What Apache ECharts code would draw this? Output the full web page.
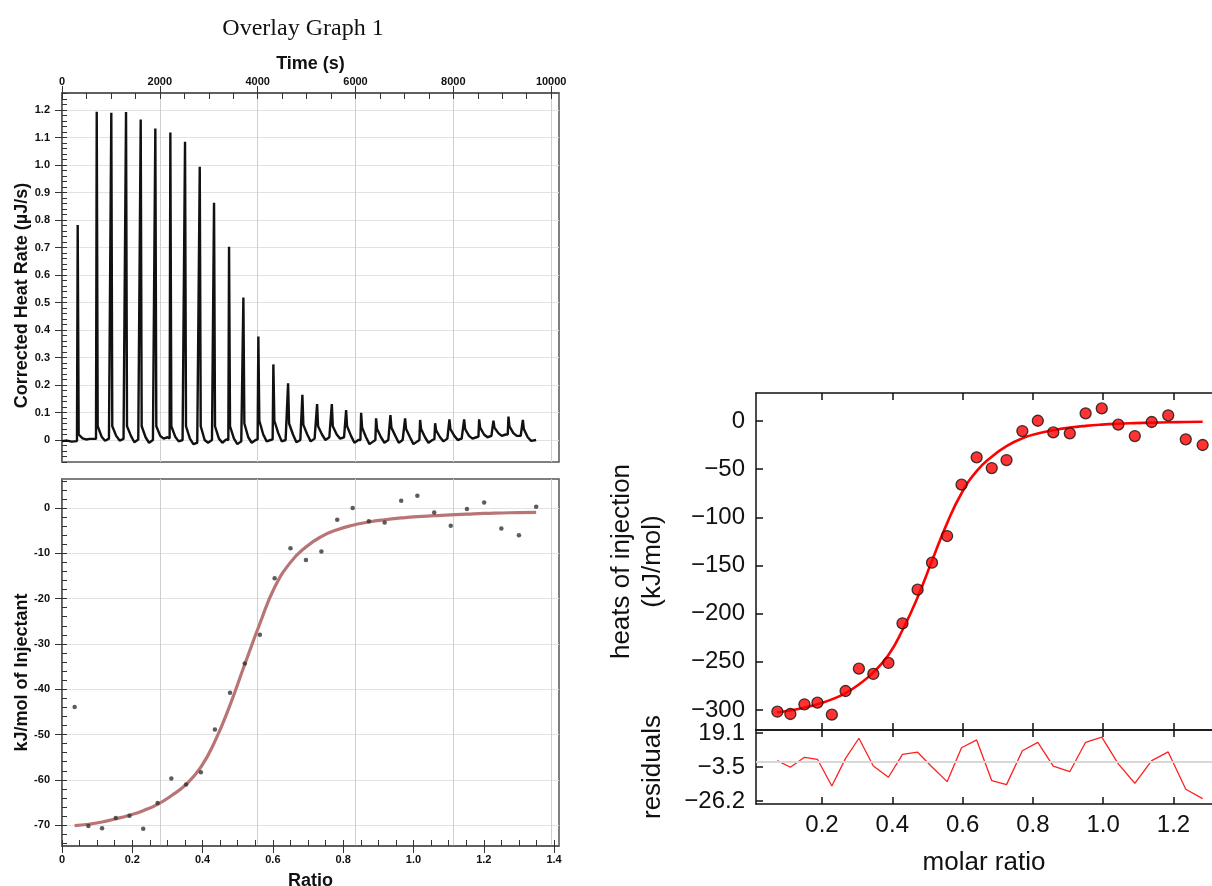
<!DOCTYPE html>
<html><head><meta charset="utf-8">
<script src="https://cdn.jsdelivr.net/npm/echarts@6/dist/echarts.min.js"></script>
<style>html,body{margin:0;padding:0;background:#fff}#c{width:1212px;height:886px}</style>
</head><body><div id="c"></div>
<script>
// ---------- data ----------
const thermogram = [
 [0,-0.004],[100,-0.002],[200,-0.006],
 [306,-0.004],[321,0.782],[341,0.02],[421,0.006],[491,0.002],[571,0.004],
 [695,0.004],[710,1.194],[730,0.05],[810,0.012],[880,-0.003],[960,0.005],
 [993,0.004],[1008,1.190],[1028,0.05],[1108,0.015],[1178,-0.002],[1258,0.004],
 [1294,0.003],[1309,1.193],[1329,0.05],[1409,0.015],[1479,-0.008],[1559,0.002],
 [1594,0.0],[1609,1.166],[1629,0.05],[1709,0.01],[1779,-0.01],[1859,0.0],
 [1893,0.005],[1908,1.133],[1928,0.05],[2008,0.015],[2078,0.005],[2158,0.01],
 [2200,0.006],[2215,1.118],[2235,0.05],[2315,0.012],[2385,-0.005],[2465,0.0],
 [2500,0.0],[2515,1.085],[2535,0.05],[2615,0.005],[2685,-0.015],[2765,-0.01],
 [2801,-0.005],[2816,0.994],[2836,0.05],[2916,0.0],[2986,-0.01],[3066,0.0],
 [3093,0.003],[3108,0.863],[3128,0.05],[3208,0.005],[3278,-0.01],[3358,0.002],
 [3400,0.0],[3415,0.703],[3435,0.05],[3515,0.005],[3585,-0.015],[3665,-0.005],
 [3693,-0.002],[3708,0.518],[3728,0.06],[3808,0.01],[3878,-0.01],[3958,0.0],
 [3999,0.002],[4014,0.376],[4034,0.07],[4114,0.02],[4184,-0.005],[4264,0.0],
 [4306,0.002],[4321,0.275],[4341,0.07],[4421,0.025],[4491,-0.005],[4571,0.0],
 [4607,0.0],[4622,0.206],[4642,0.06],[4722,0.02],[4792,-0.008],[4872,0.0],
 [4899,0.003],[4914,0.164],[4934,0.055],[5014,0.02],[5084,-0.005],[5164,0.005],
 [5200,0.008],[5215,0.131],[5235,0.05],[5315,0.02],[5385,0.0],[5465,0.01],
 [5501,0.012],[5516,0.131],[5536,0.05],[5616,0.02],[5686,0.005],[5766,0.01],
 [5793,0.008],[5808,0.109],[5828,0.05],[5908,0.015],[5978,-0.01],[6058,0.0],
 [6100,0.0],[6115,0.099],[6135,0.045],[6215,0.01],[6285,-0.015],[6365,-0.005],
 [6406,0.0],[6421,0.079],[6441,0.04],[6521,0.01],[6591,-0.01],[6671,0.0],
 [6699,0.003],[6714,0.091],[6734,0.045],[6814,0.015],[6884,-0.01],[6964,0.0],
 [6999,0.002],[7014,0.079],[7034,0.04],[7114,0.01],[7184,-0.015],[7264,-0.005],
 [7306,0.0],[7321,0.073],[7341,0.04],[7421,0.01],[7491,-0.01],[7571,0.0],
 [7613,0.003],[7628,0.061],[7648,0.035],[7728,0.01],[7798,-0.005],[7878,0.005],
 [7905,0.006],[7920,0.075],[7940,0.04],[8020,0.015],[8090,0.0],[8170,0.005],
 [8206,0.008],[8221,0.075],[8241,0.04],[8321,0.015],[8391,0.005],[8471,0.01],
 [8513,0.012],[8528,0.075],[8548,0.045],[8628,0.02],[8698,0.01],[8778,0.015],
 [8805,0.015],[8820,0.070],[8840,0.045],[8920,0.025],[8990,0.015],[9070,0.02],
 [9112,0.02],[9127,0.085],[9147,0.05],[9227,0.025],[9297,0.015],[9377,0.015],
 [9406,0.012],[9421,0.073],[9441,0.04],[9521,0.01],[9591,-0.003],[9693,0.0]
];

const ratioLeft = [0.036,0.075,0.114,0.153,0.192,0.231,0.272,0.311,0.353,0.395,0.435,0.478,0.520,0.563,0.605,0.650,0.694,0.738,0.783,0.827,0.873,0.918,0.965,1.011,1.059,1.106,1.152,1.201,1.250,1.300,1.349];
const heatLeft = [-43.9,-70.2,-70.7,-68.4,-67.9,-70.8,-65.1,-59.7,-61.0,-58.3,-48.9,-40.8,-34.3,-28.0,-15.5,-8.9,-11.5,-9.6,-2.6,0.0,-2.9,-3.2,1.6,2.7,-1.0,-3.9,-0.2,1.2,-4.5,-6.0,0.3];
const fitLeft = [-70.1,-69.8,-69.3,-68.6,-67.8,-66.8,-65.4,-63.5,-61.0,-57.2,-51.5,-43.5,-34.5,-25.5,-17.5,-12.0,-8.6,-6.3,-4.8,-3.8,-3.1,-2.6,-2.2,-1.9,-1.7,-1.5,-1.35,-1.2,-1.1,-1.0,-0.95];

const ratioRight = [0.073,0.110,0.150,0.187,0.228,0.267,0.305,0.346,0.389,0.429,0.472,0.513,0.556,0.597,0.640,0.683,0.725,0.770,0.814,0.858,0.905,0.950,0.996,1.043,1.090,1.138,1.185,1.235,1.283];
const heatRight = [-301.8,-304.2,-294.1,-292.4,-304.9,-280.3,-257.1,-262.6,-251.2,-210.0,-175.1,-147.1,-119.4,-66.1,-37.7,-48.8,-40.5,-10.4,0.3,-11.8,-12.8,8.0,13.1,-3.8,-15.6,-1.0,5.9,-19.0,-24.9];
const fitRight = [-302.5,-300.5,-297.5,-294,-289,-282.5,-273.5,-261,-243,-217,-183,-145,-106,-75,-52,-37,-26,-18,-13,-9.5,-6.8,-5.0,-3.7,-2.8,-2.2,-1.7,-1.3,-1.0,-0.8];
const residuals = [0.7,-3.7,2.9,1.6,-16.2,2.2,15.6,-2.9,-10.4,4.9,6.3,-3.5,-13.3,9.3,14.5,-12.7,-15.3,7.3,12.9,-2.9,-6.7,12.9,16.3,-1.5,-14.4,0.7,6.5,-18.4,-24.6];

const timeTicks = [0,2000,4000,6000,8000,10000];
const heatRateTicks = [0,0.1,0.2,0.3,0.4,0.5,0.6,0.7,0.8,0.9,1.0,1.1,1.2];
const ratioTicks = [0,0.2,0.4,0.6,0.8,1.0,1.2,1.4];
const kjTicks = [-70,-60,-50,-40,-30,-20,-10,0];
const molarTicks = [0.2,0.4,0.6,0.8,1.0,1.2];
const heatsTicks = [-300,-250,-200,-150,-100,-50,0];
const residualTicks = [-26.2,-3.5,19.1];

// ---------- helpers (axis config only) ----------
function range(a, b, s) { const r = []; const n = Math.round((b - a) / s); for (let i = 0; i <= n; i++) r.push(+(a + i * s).toFixed(6)); return r; }
const zip = (xs, ys) => xs.map((x, i) => [x, ys[i]]);
const SANS = 'Liberation Sans, Arial, sans-serif';
const fmt1 = v => (Math.abs(v) < 1e-9 ? '0' : (+v).toFixed(1));
const minus = v => String(v).replace('-', '\u2212');

const TMAX = 10160;
const HR = [-0.08, 1.262];
const KJ = [-74.6, 6.4];
const RT = [0, 1.414];
const MX = [0.0122, 1.3096];
const leftLabel = { fontWeight: 'bold', fontSize: 11, color: '#111', fontFamily: SANS };
const leftName = { fontWeight: 'bold', fontSize: 18, color: '#111', fontFamily: SANS };
const rightLabel = { fontSize: 24, color: '#111', fontFamily: SANS };
const grayAxis = { show: true, onZero: false, lineStyle: { color: '#555', width: 1.5 } };
const blackLine = { show: true, onZero: false, lineStyle: { color: '#111', width: 1.5 } };
const noLabel = { show: false };
const noSplit = { show: false };
const noLine = { show: false, onZero: false };
const grayTick = { color: '#333' };
const blackTick = { color: '#111', width: 1.5 };

const xAxis = [
  // 0: Time axis (top of upper-left panel)
  { gridIndex: 0, type: 'value', position: 'top', min: 0, max: TMAX, axisLine: grayAxis,
    axisTick: { show: true, inside: false, length: 7, customValues: timeTicks, lineStyle: grayTick },
    axisLabel: Object.assign({ customValues: timeTicks, margin: 6, formatter: v => String(v) }, leftLabel),
    splitLine: { show: true, lineStyle: { color: '#cfcfcf', width: 1 } },
    name: 'Time (s)', nameLocation: 'middle', nameGap: 20, nameMoveOverlap: false, nameTextStyle: leftName },
  // 1: minor ticks inside (overlay grid 4)
  { gridIndex: 4, type: 'value', position: 'top', min: 0, max: TMAX, axisLine: noLine,
    axisTick: { show: true, inside: true, length: 6, customValues: range(0, 10000, 500), lineStyle: grayTick },
    axisLabel: noLabel, splitLine: noSplit },
  // 2: Ratio axis (bottom of lower-left panel)
  { gridIndex: 1, type: 'value', position: 'bottom', min: RT[0], max: RT[1], axisLine: grayAxis,
    axisTick: { show: true, inside: false, length: 7, customValues: ratioTicks, lineStyle: grayTick },
    axisLabel: Object.assign({ customValues: ratioTicks, margin: 8, formatter: fmt1 }, leftLabel),
    splitLine: noSplit,
    name: 'Ratio', nameLocation: 'middle', nameGap: 26, nameMoveOverlap: false, nameTextStyle: leftName },
  // 3: minor ticks inside (overlay grid 5)
  { gridIndex: 5, type: 'value', position: 'bottom', min: RT[0], max: RT[1], axisLine: noLine,
    axisTick: { show: true, inside: true, length: 6, customValues: range(0, 1.4, 0.05), lineStyle: grayTick },
    axisLabel: noLabel, splitLine: noSplit },
  // 4: shared time grid lines in lower-left panel (overlay grid 5)
  { gridIndex: 5, type: 'value', position: 'top', min: 0, max: TMAX, axisLine: noLine,
    axisTick: { show: false, customValues: timeTicks }, axisLabel: { show: false, customValues: timeTicks },
    splitLine: { show: true, lineStyle: { color: '#cfcfcf', width: 1 } } },
  // 5,6: right main panel top / bottom
  { gridIndex: 2, type: 'value', position: 'top', min: MX[0], max: MX[1], axisLine: blackLine,
    axisTick: { show: true, inside: true, length: 7, customValues: molarTicks, lineStyle: blackTick },
    axisLabel: noLabel, splitLine: noSplit },
  { gridIndex: 2, type: 'value', position: 'bottom', min: MX[0], max: MX[1], axisLine: blackLine,
    axisTick: { show: true, inside: true, length: 7, customValues: molarTicks, lineStyle: blackTick },
    axisLabel: noLabel, splitLine: noSplit },
  // 7,8: residual panel top / bottom
  { gridIndex: 3, type: 'value', position: 'top', min: MX[0], max: MX[1], axisLine: blackLine,
    axisTick: { show: true, inside: true, length: 7, customValues: molarTicks, lineStyle: blackTick },
    axisLabel: noLabel, splitLine: noSplit },
  { gridIndex: 3, type: 'value', position: 'bottom', min: MX[0], max: MX[1], axisLine: blackLine,
    axisTick: { show: true, inside: true, length: 7, customValues: molarTicks, lineStyle: blackTick },
    axisLabel: Object.assign({ customValues: molarTicks, margin: 9, formatter: fmt1 }, rightLabel),
    splitLine: noSplit,
    name: 'molar ratio', nameLocation: 'middle', nameGap: 46, nameMoveOverlap: false,
    nameTextStyle: { fontSize: 26, color: '#111', fontFamily: SANS } }
];

const yAxis = [
  // 0: heat rate
  { gridIndex: 0, type: 'value', position: 'left', min: HR[0], max: HR[1], axisLine: grayAxis,
    axisTick: { show: true, inside: false, length: 7, customValues: heatRateTicks, lineStyle: grayTick },
    axisLabel: Object.assign({ customValues: heatRateTicks, margin: 12, formatter: fmt1 }, leftLabel),
    splitLine: { show: true, lineStyle: { color: '#e2e2e2', width: 1 } },
    name: 'Corrected Heat Rate (\u00B5J/s)', nameLocation: 'middle', nameRotate: 90, nameGap: 31, nameMoveOverlap: false,
    nameTextStyle: Object.assign({ padding: [0, 36, 0, 0] }, leftName) },
  // 1: minor ticks inside (overlay grid 4)
  { gridIndex: 4, type: 'value', position: 'left', min: HR[0], max: HR[1], axisLine: noLine,
    axisTick: { show: true, inside: true, length: 5, customValues: range(-0.08, 1.26, 0.02), lineStyle: grayTick },
    axisLabel: noLabel, splitLine: noSplit },
  // 2: kJ/mol
  { gridIndex: 1, type: 'value', position: 'left', min: KJ[0], max: KJ[1], axisLine: grayAxis,
    axisTick: { show: true, inside: false, length: 7, customValues: kjTicks, lineStyle: grayTick },
    axisLabel: Object.assign({ customValues: kjTicks, margin: 12 }, leftLabel),
    splitLine: { show: true, lineStyle: { color: '#e2e2e2', width: 1 } },
    name: 'kJ/mol of Injectant', nameLocation: 'middle', nameRotate: 90, nameGap: 31, nameMoveOverlap: false,
    nameTextStyle: Object.assign({ padding: [0, 20, 0, 0] }, leftName) },
  // 3: minor ticks inside (overlay grid 5)
  { gridIndex: 5, type: 'value', position: 'left', min: KJ[0], max: KJ[1], axisLine: noLine,
    axisTick: { show: true, inside: true, length: 5, customValues: range(-74, 6, 2), lineStyle: grayTick },
    axisLabel: noLabel, splitLine: noSplit },
  // 4: heats of injection
  { gridIndex: 2, type: 'value', position: 'left', min: -320.8, max: 29.1, axisLine: blackLine,
    axisTick: { show: true, inside: true, length: 7, customValues: heatsTicks, lineStyle: blackTick },
    axisLabel: Object.assign({ customValues: heatsTicks, margin: 11, formatter: minus }, rightLabel),
    splitLine: noSplit,
    name: 'heats of injection\n(kJ/mol)', nameLocation: 'middle', nameRotate: 90, nameGap: 88, nameMoveOverlap: false,
    nameTextStyle: { fontSize: 26, lineHeight: 31, color: '#111', fontFamily: SANS } },
  // 5: residuals
  { gridIndex: 3, type: 'value', position: 'left', min: -28.2, max: 21.1, axisLine: blackLine,
    axisTick: { show: true, inside: true, length: 7, customValues: residualTicks, lineStyle: blackTick },
    axisLabel: Object.assign({ customValues: residualTicks, margin: 11, formatter: minus }, rightLabel),
    splitLine: noSplit,
    name: 'residuals', nameLocation: 'middle', nameRotate: 90, nameGap: 90, nameMoveOverlap: false,
    nameTextStyle: { fontSize: 26, color: '#111', fontFamily: SANS } }
];

const option = {
  animation: false,
  backgroundColor: '#fff',
  title: { text: 'Overlay Graph 1', left: 298, top: 12, textAlign: 'center',
    textStyle: { fontFamily: 'Liberation Serif, Times New Roman, serif', fontWeight: 'normal', fontSize: 24, color: '#111' } },
  grid: [
    { left: 62, top: 93, width: 497, height: 369, show: true, borderColor: '#555', borderWidth: 1.5, outerBoundsMode: 'none' },
    { left: 62, top: 479, width: 497, height: 367, show: true, borderColor: '#555', borderWidth: 1.5, outerBoundsMode: 'none' },
    { left: 756, top: 393, right: 0, height: 337, outerBoundsMode: 'none' },
    { left: 756, top: 730, right: 0, height: 74, outerBoundsMode: 'none' },
    { left: 62, top: 93, width: 497, height: 369, show: false, outerBoundsMode: 'none' },
    { left: 62, top: 479, width: 497, height: 367, show: false, outerBoundsMode: 'none' }
  ],
  xAxis, yAxis,
  series: [
    { name: 'Corrected heat rate', type: 'line', xAxisIndex: 0, yAxisIndex: 0, data: thermogram,
      showSymbol: false, lineStyle: { color: '#111', width: 2.4 }, clip: true },
    { name: 'Fit (left)', type: 'line', xAxisIndex: 2, yAxisIndex: 2, data: zip(ratioLeft, fitLeft), smooth: true,
      showSymbol: false, lineStyle: { color: '#b97575', width: 3.2 }, z: 2 },
    { name: 'Data (left)', type: 'scatter', xAxisIndex: 2, yAxisIndex: 2, data: zip(ratioLeft, heatLeft),
      symbolSize: 4.5, itemStyle: { color: '#333' }, z: 3 },
    { name: 'Fit (right)', type: 'line', xAxisIndex: 5, yAxisIndex: 4, data: zip(ratioRight, fitRight), smooth: true,
      showSymbol: false, lineStyle: { color: '#ff0000', width: 2.6 }, z: 2 },
    { name: 'Data (right)', type: 'scatter', xAxisIndex: 5, yAxisIndex: 4, data: zip(ratioRight, heatRight),
      symbolSize: 11, itemStyle: { color: '#ff0000', borderColor: '#111', borderWidth: 1.3 }, z: 3 },
    { name: 'Residuals', type: 'line', xAxisIndex: 8, yAxisIndex: 5, data: zip(ratioRight, residuals),
      showSymbol: false, lineStyle: { color: '#ff2020', width: 1.3 },
      markLine: { silent: true, symbol: 'none', label: { show: false },
        lineStyle: { color: '#d8d8d8', width: 2, type: 'solid' }, data: [{ yAxis: 0 }] } }
  ]
};

const chart = echarts.init(document.getElementById('c'), null, { renderer: 'canvas' });
chart.setOption(option);
</script>
</body></html>
